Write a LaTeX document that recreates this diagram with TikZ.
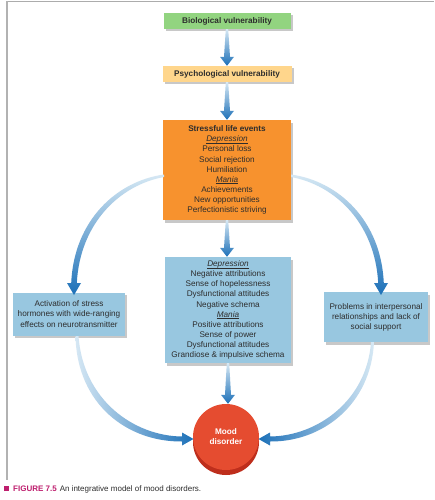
\documentclass[tikz,border=0pt]{standalone}
\usepackage{fontspec}
\setmainfont{Liberation Sans}
\usetikzlibrary{shadows,calc}
\definecolor{bioGreen}{RGB}{146,212,128}
\definecolor{psyYellow}{RGB}{255,214,140}
\definecolor{stressOrange}{RGB}{247,146,46}
\definecolor{cogBlue}{RGB}{152,199,224}
\definecolor{arrDark}{RGB}{28,112,184}
\definecolor{arrPale}{RGB}{214,232,244}
\definecolor{moodRed}{RGB}{229,76,48}
\definecolor{moodDark}{RGB}{190,46,28}
\definecolor{capMag}{RGB}{190,30,110}
\definecolor{txt}{RGB}{45,45,45}
\newcommand\ulit[1]{\setbox0\hbox{\textit{#1}}\rlap{\rule[-1.6pt]{\wd0}{0.45pt}}\box0}
\tikzset{
  box/.style={draw=none, align=center, text=txt, inner sep=0pt,
    font=\fontsize{8.2}{10.1}\selectfont,
    drop shadow={shadow xshift=2pt, shadow yshift=-2.5pt, opacity=0.3, fill=black!70}},
  moodnode/.style={circle, fill=moodRed, minimum size=66pt, inner sep=0pt, align=center,
    text=white, font=\fontsize{8.2}{10.1}\selectfont\bfseries},
  vshade/.style={top color=arrPale, bottom color=arrDark},
}
\newcommand\vconn[2]{%
  \shade[vshade] let \p1=(#1.south), \p2=(#2.north) in
  (\x1-1.2pt,\y1) -- (\x1+1.2pt,\y1) -- (\x1+3pt,\y2+9pt) -- (\x1+7pt,\y2+9pt)
  -- (\x1,\y2) -- (\x1-7pt,\y2+9pt) -- (\x1-3pt,\y2+9pt) -- cycle;}
\begin{document}
\begin{tikzpicture}[x=1pt,y=-1pt]
\useasboundingbox (0,0) rectangle (434,500);
\fill[white] (0,0) rectangle (434,500);
% frame
\draw[gray!65, line width=1.6pt] (6,1.5) -- (434,1.5);
\draw[gray!60, line width=1.2pt] (7,1.5) -- (7,480);

% boxes
\node[box, fill=bioGreen, minimum width=127pt, minimum height=16pt, font=\fontsize{8.2}{10.1}\selectfont\bfseries] (bio) at (227,21) {Biological vulnerability};
\node[box, fill=psyYellow, minimum width=129pt, minimum height=16pt, font=\fontsize{8.2}{10.1}\selectfont\bfseries] (psy) at (227,74) {Psychological vulnerability};
\node[box, fill=stressOrange, minimum width=128pt, minimum height=100pt] (stress) at (227,170)
  {\textbf{Stressful life events}\\ \ulit{Depression}\\ Personal loss\\ Social rejection\\ Humiliation\\ \ulit{Mania}\\ Achievements\\ New opportunities\\ Perfectionistic striving};
\node[box, fill=cogBlue, minimum width=126pt, minimum height=106pt] (cog) at (228,310)
  {\ulit{Depression}\\ Negative attributions\\ Sense of hopelessness\\ Dysfunctional attitudes\\ Negative schema\\ \ulit{Mania}\\ Positive attributions\\ Sense of power\\ Dysfunctional attitudes\\ Grandiose \& impulsive schema};
\node[box, fill=cogBlue, minimum width=112pt, minimum height=43pt] (left) at (69,314)
  {Activation of stress\\ hormones with wide-ranging\\ effects on neurotransmitter};
\node[box, fill=cogBlue, minimum width=104pt, minimum height=50pt] (right) at (376,317)
  {Problems in interpersonal\\ relationships and lack of\\ social support};

% mood disorder
\fill[moodDark] (226,442) circle (33pt);
\node[moodnode] (mood) at (226,437) {Mood\\ disorder};

% vertical connectors
\vconn{bio}{psy}
\vconn{psy}{stress}
\vconn{stress}{cog}
\vconn{cog}{mood}

% curved connectors from stressful life events
\shade[top color=arrPale, bottom color=arrDark]
  (164,174.5) .. controls (117,181) and (74,220) .. (71.2,283)
  -- (67,283) -- (74,295) -- (81,283) -- (76.8,283)
  .. controls (80,223) and (120,185) .. (164,177) -- cycle;
\shade[top color=arrPale, bottom color=arrDark]
  (291,174.5) .. controls (338,181) and (381,220) .. (383.8,283)
  -- (388,283) -- (381,295) -- (374,283) -- (378.2,283)
  .. controls (375,223) and (335,185) .. (291,177) -- cycle;

% curved connectors to mood disorder
\shade[left color=arrPale, right color=arrDark]
  (75.5,336) .. controls (77,405) and (128,442) .. (182,441.5)
  -- (182,445.5) -- (193.5,439) -- (182,432.5) -- (182,436.5)
  .. controls (134,436) and (83,400) .. (78.5,336) -- cycle;
\shade[left color=arrDark, right color=arrPale]
  (374,342) .. controls (371,405) and (322,442) .. (270,441.5)
  -- (270,445.5) -- (258.5,439) -- (270,432.5) -- (270,436.5)
  .. controls (318,436) and (367,400) .. (371,342) -- cycle;

% caption
\node[anchor=west, inner sep=0pt, text=txt, font=\fontsize{8}{9.5}\selectfont] (cap) at (4,489)
  {\textcolor{capMag}{\rule{5pt}{5pt}}\hspace{4pt}\textcolor{capMag}{\textbf{FIGURE 7.5}}\hspace{3pt}An integrative model of mood disorders.};
\end{tikzpicture}
\end{document}
